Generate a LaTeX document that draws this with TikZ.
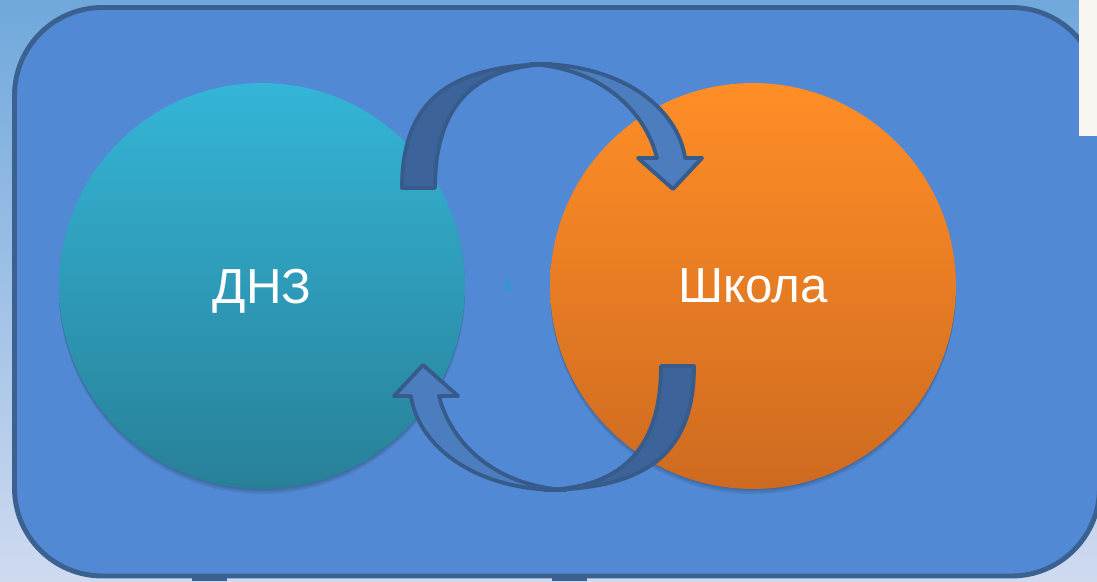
\documentclass[tikz,border=0pt]{standalone}
\usepackage{fontspec}
\setmainfont{Liberation Sans}
\usetikzlibrary{positioning}
\definecolor{bgtop}{RGB}{112,168,220}
\definecolor{bgbot}{RGB}{207,218,240}
\definecolor{panel}{RGB}{82,137,212}
\definecolor{panelline}{RGB}{58,97,144}
\definecolor{tealtop}{RGB}{52,181,215}
\definecolor{tealbot}{RGB}{40,128,152}
\definecolor{orgtop}{RGB}{255,142,38}
\definecolor{orgbot}{RGB}{206,106,32}
\definecolor{arrowdark}{RGB}{60,100,155}
\definecolor{arrowlight}{RGB}{76,125,190}
\definecolor{arrowline}{RGB}{55,92,140}
\definecolor{sheet}{RGB}{249,246,242}

\tikzset{
  ball/.style={circle, minimum size=8.12cm, inner sep=0pt, text=white,
    text depth=0pt, font=\fontsize{28}{34}\selectfont},
  backband/.style={fill=arrowdark, draw=arrowline, line width=2.2pt, line join=round},
  frontband/.style={fill=arrowlight, draw=arrowline, line width=2.2pt, line join=round},
}

% one bent arrow, tail on the left, head down on the right
\newcommand{\bentarrow}{%
  \draw[backband] (402,188) .. controls (402,100) and (450,65) .. (552,64)
    .. controls (470,66) and (435,110) .. (435,188) -- cycle;
  \draw[frontband] (530,64) .. controls (620,62) and (678,108) .. (685,158)
    -- (702,158) -- (673,189) -- (638,158) -- (657,158)
    .. controls (645,110) and (600,68) .. (530,64) -- cycle;
}

\begin{document}
\begin{tikzpicture}[x=0.02cm,y=-0.02cm]
\useasboundingbox (0,0) rectangle (1097,581);
\shade[top color=bgtop, bottom color=bgbot] (0,0) rectangle (1097,581);

\fill[panelline] (192,574) rectangle (227,581);
\fill[panelline] (552,574) rectangle (587,581);
\draw[panelline, fill=panel, line width=2.8pt, rounded corners=1.76cm] (14.5,7.5) rectangle (1099.5,576);
\fill[sheet] (1079,-2) rectangle (1099,136);

% shadows
\foreach \d in {2,4,6} {
  \fill[black, opacity=0.08] (262,285+\d) circle (203);
  \fill[black, opacity=0.08] (753,285+\d) circle (203);
}

\node[ball, top color=tealtop, bottom color=tealbot] (dnz) at (262,286) {ДНЗ};
\node[ball, top color=orgtop, bottom color=orgbot] (shkola) at (753,286) {Школа};

\fill[cyan!70!teal, opacity=0.6] (505,281) rectangle (510,292);

\bentarrow
\begin{scope}[rotate around={180:(548,277)}]
\bentarrow
\end{scope}

\end{tikzpicture}
\end{document}
